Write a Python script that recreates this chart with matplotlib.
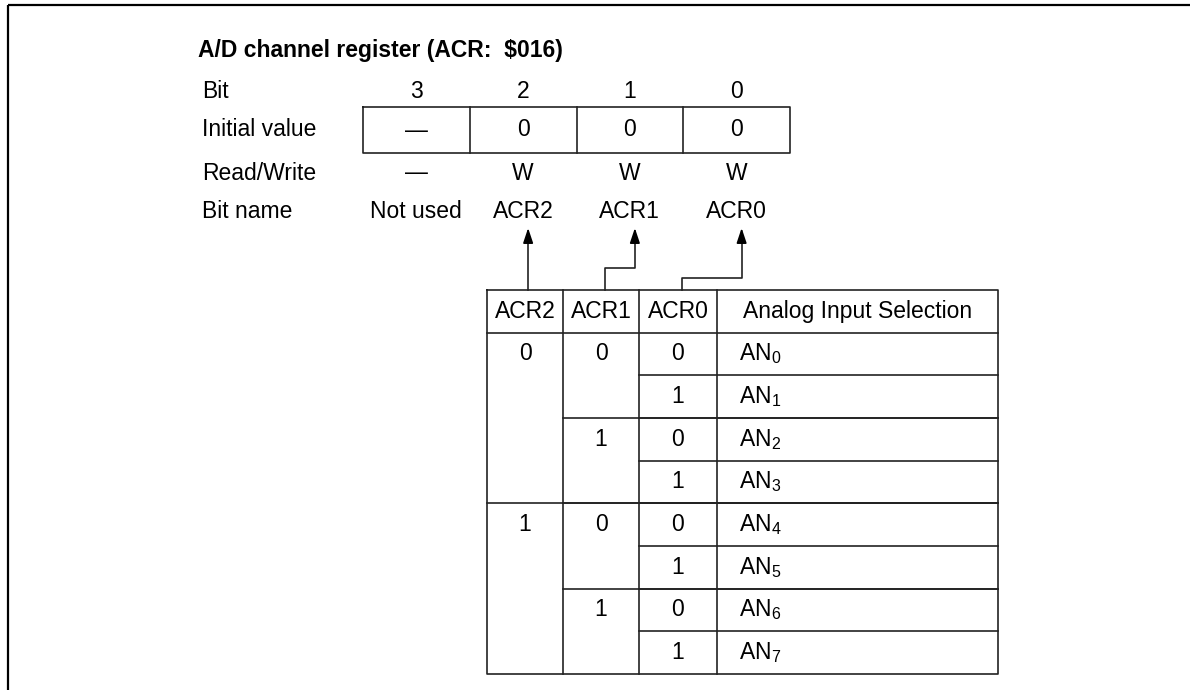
import numpy as np
import matplotlib
matplotlib.use("Agg")
import matplotlib.pyplot as plt

plt.rcParams['font.family'] = ['Liberation Sans', 'DejaVu Sans']
plt.rcParams['mathtext.fontset'] = 'custom'
plt.rcParams['mathtext.rm'] = 'Liberation Sans'
plt.rcParams['mathtext.it'] = 'Liberation Sans:italic'

# register description
title = "A/D channel register (ACR:  $016)"
row_labels = ["Bit", "Initial value", "Read/Write", "Bit name"]
bits = ["3", "2", "1", "0"]
initial_values = ["\u2014", "0", "0", "0"]
read_write = ["\u2014", "W", "W", "W"]
bit_names = ["Not used", "ACR2", "ACR1", "ACR0"]

# selection table
header = ["ACR2", "ACR1", "ACR0", "Analog Input Selection"]
acr2 = [0, 0, 0, 0, 1, 1, 1, 1]
acr1 = [0, 0, 1, 1, 0, 0, 1, 1]
acr0 = [0, 1, 0, 1, 0, 1, 0, 1]
channels = [0, 1, 2, 3, 4, 5, 6, 7]

FS = 16.5
LC = '#222222'
LW = 1.2

fig = plt.figure(figsize=(11.92, 6.90), dpi=100)
ax = fig.add_axes([0, 0, 1, 1])
ax.set_xlim(0, 1192)
ax.set_ylim(690, 0)
ax.axis('off')

# outer frame (top and left only)
ax.plot([8, 1190], [5, 5], color='black', lw=1.6, solid_capstyle='butt')
ax.plot([8, 8], [5, 690], color='black', lw=1.6, solid_capstyle='butt')

ax.text(198, 50, title, fontsize=FS, fontweight='bold', va='center', ha='left')

# --- register layout ---
reg_left, reg_w = 363, 106.75
reg_top, reg_bot = 107, 153
row_y = [92, 130, 173, 212]
reg_cx = [reg_left + reg_w * (i + 0.5) for i in range(len(bits))]

for lab, y in zip(row_labels, row_y):
    ax.text(202, y, lab, fontsize=FS, va='center', ha='left')

reg_right = reg_left + reg_w * len(bits)
ax.plot([reg_left, reg_right, reg_right, reg_left, reg_left],
        [reg_top, reg_top, reg_bot, reg_bot, reg_top], color=LC, lw=LW)
for i in range(1, len(bits)):
    x = reg_left + reg_w * i
    ax.plot([x, x], [reg_top, reg_bot], color=LC, lw=LW)

for vals, y in zip([bits, initial_values, read_write, bit_names], row_y):
    for cx, v in zip(reg_cx, vals):
        ax.text(cx, y, v, fontsize=FS, va='center', ha='center')

# --- selection table ---
col_edges = [487, 563, 639, 717, 998]
t_top = 290
row_h = (674 - 290) / 9.0
n = len(channels)
t_bot = t_top + row_h * (n + 1)

ax.plot([col_edges[0], col_edges[-1], col_edges[-1], col_edges[0], col_edges[0]],
        [t_top, t_top, t_bot, t_bot, t_top], color=LC, lw=LW)
for x in col_edges[1:-1]:
    ax.plot([x, x], [t_top, t_bot], color=LC, lw=LW)
ax.plot([col_edges[0], col_edges[-1]], [t_top + row_h] * 2, color=LC, lw=LW)

col_cx = [(col_edges[i] + col_edges[i + 1]) / 2 for i in range(4)]
hy = t_top + row_h / 2
for i, h in enumerate(header):
    ax.text(col_cx[i], hy, h, fontsize=FS, va='center', ha='center')

cols = [acr2, acr1, acr0]
for r in range(n):
    y0 = t_top + row_h * (r + 1)
    yc = y0 + row_h / 2
    for c in range(3):
        new_group = r == 0 or any(cols[k][r] != cols[k][r - 1] for k in range(c + 1))
        if new_group:
            ax.text(col_cx[c], yc, str(cols[c][r]), fontsize=FS, va='center', ha='center')
            if r > 0:
                ax.plot([col_edges[c], col_edges[-1]], [y0, y0], color=LC, lw=LW)
    ax.text(col_edges[3] + 22, yc, r'AN$_{\mathrm{%d}}$' % channels[r], fontsize=FS,
            va='center', ha='left')

# --- connectors from table header to bit names ---
tip_y = 228
elbow_y = [None, 268, 278]
for c in range(3):
    x_top = reg_cx[c + 1] + 5
    x_bot = col_cx[c] + 4
    if elbow_y[c] is None:
        xs, ys = [x_top, x_top], [t_top, tip_y + 10]
    else:
        xs = [x_bot, x_bot, x_top, x_top]
        ys = [t_top, elbow_y[c], elbow_y[c], tip_y + 10]
    ax.plot(xs, ys, color=LC, lw=LW)
    ax.annotate('', xy=(x_top, tip_y), xytext=(x_top, tip_y + 14),
                arrowprops=dict(arrowstyle='-|>,head_length=0.9,head_width=0.3',
                                color='black', lw=LW, shrinkA=0, shrinkB=0))

fig.savefig('out.png', dpi=100)
